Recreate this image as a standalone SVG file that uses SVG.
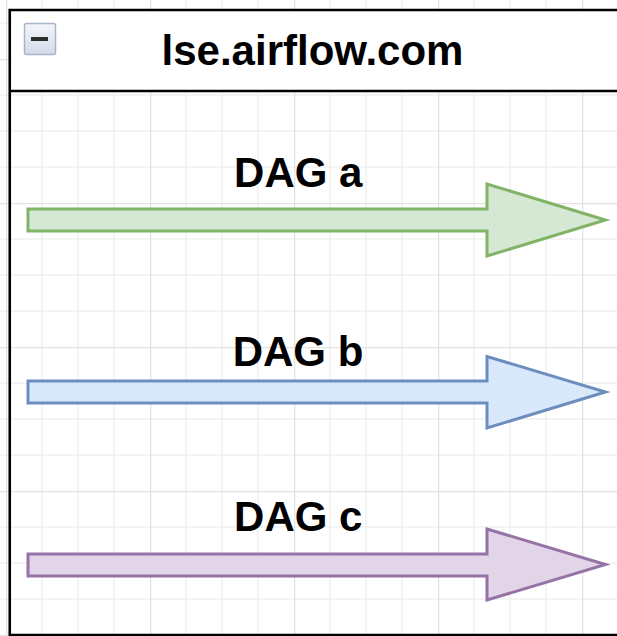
<svg xmlns="http://www.w3.org/2000/svg" width="617" height="636" viewBox="0 0 617 636">
  <defs>
    <pattern id="grid" patternUnits="userSpaceOnUse" x="6" y="59" width="144" height="144">
      <g stroke="#f0f0f0" stroke-width="1.5">
        <line x1="36" y1="0" x2="36" y2="144"/>
        <line x1="72" y1="0" x2="72" y2="144"/>
        <line x1="108" y1="0" x2="108" y2="144"/>
        <line x1="0" y1="36" x2="144" y2="36"/>
        <line x1="0" y1="72" x2="144" y2="72"/>
        <line x1="0" y1="108" x2="144" y2="108"/>
      </g>
      <g stroke="#e2e2e2" stroke-width="1.5">
        <line x1="0.5" y1="0" x2="0.5" y2="144"/>
        <line x1="0" y1="0.5" x2="144" y2="0.5"/>
      </g>
    </pattern>
    <linearGradient id="iconGrad" x1="0" y1="0" x2="0" y2="1">
      <stop offset="0" stop-color="#f4f6fa"/>
      <stop offset="1" stop-color="#d3dbe7"/>
    </linearGradient>
  </defs>
  <style>
    .label { font-family: "Liberation Sans", Arial, sans-serif; font-weight: bold; font-size: 42px; fill: #000; }
    .arrow { stroke-width: 3; stroke-linejoin: miter; }
    .green { fill: #d5e8d4; stroke: #82b366; }
    .blue { fill: #dae8fc; stroke: #6c8ebf; }
    .purple { fill: #e1d5e7; stroke: #9673a6; }
  </style>
  <rect x="0" y="0" width="617" height="636" fill="#ffffff"/>
  <rect x="0" y="0" width="617" height="636" fill="url(#grid)"/>

  <g id="container">
    <rect x="9.75" y="10" width="620" height="81" fill="#ffffff"/>
    <path d="M630 10 H9.75 V635 H630" fill="none" stroke="#000" stroke-width="2.6"/>
    <line x1="9.75" y1="91" x2="630" y2="91" stroke="#000" stroke-width="2.6"/>
    <g id="collapse-icon">
      <rect x="24.5" y="23.5" width="31" height="31" rx="2" fill="url(#iconGrad)" stroke="#a7b6cc" stroke-width="1.5"/>
      <rect x="31" y="37" width="17" height="4" fill="#2d2d2d"/>
    </g>
    <text class="label" x="312.5" y="65" text-anchor="middle">lse.airflow.com</text>
  </g>

  <g id="connectors">
    <g id="dag-a">
      <polygon class="arrow green" points="28,209 487,209 487,184 605.5,220 487,256 487,231 28,231"/>
      <text class="label" x="298.3" y="187" text-anchor="middle">DAG a</text>
    </g>
    <g id="dag-b">
      <polygon class="arrow blue" points="28,381 487,381 487,356.5 605.5,392 487,428 487,403 28,403"/>
      <text class="label" x="298" y="365.5" text-anchor="middle">DAG b</text>
    </g>
    <g id="dag-c">
      <polygon class="arrow purple" points="28,554 487,554 487,529 605.5,564.5 487,600 487,576 28,576"/>
      <text class="label" x="298.3" y="530.5" text-anchor="middle">DAG c</text>
    </g>
  </g>
</svg>
